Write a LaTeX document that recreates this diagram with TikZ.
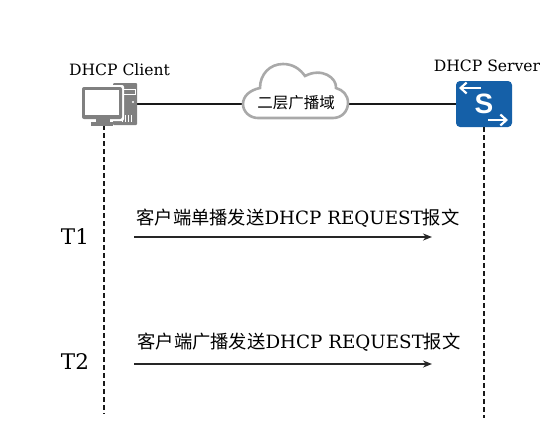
\documentclass[tikz,border=0pt]{standalone}
\usepackage{fontspec}
\setmainfont{DejaVu Serif}
\newfontfamily\cjk{Noto Sans CJK SC}
\newfontfamily\iconfont{Liberation Sans}
\usepackage{xcolor}
\usetikzlibrary{arrows.meta, calc, positioning}
\definecolor{Device}   {HTML}{808080}
\definecolor{CloudLine}{HTML}{A9A9A9}
\definecolor{Switch}   {HTML}{1560A8}
\tikzset{
  msg arrow/.style={-{Stealth[length=9pt,width=7pt]}, line width=1.8pt, draw=black!85},
  icon arrow/.style={-{Straight Barb[length=6pt,width=11pt]}, line width=2.2pt, white},
}
\begin{document}
\begin{tikzpicture}[x=1pt, y=-1pt,
    title/.style={font=\fontsize{15.6}{17}\selectfont, inner sep=0pt},
    timer/.style={font=\fontsize{21.5}{24}\selectfont, inner sep=0pt},
    msg/.style={font=\fontsize{18.3}{20}\selectfont, inner sep=0pt},
    link/.style={line width=2.1pt, draw=black!90},
    lifeline/.style={line width=2pt, dash pattern=on 5pt off 3pt, draw=black!90},
    device/.style={minimum width=#1, minimum height=42pt, inner sep=0pt, outer sep=0pt}]
  \useasboundingbox (0,0) rectangle (554,431);
  % Nodes
  \node[device=55pt] (client) at (109.5,104) {};
  \node[device=56pt, minimum height=46pt, fill=Switch, rounded corners=4pt, text=white,
        font=\iconfont\fontsize{28}{28}\selectfont\bfseries] (server) at (484,104) {S};
  \node[device=105pt, minimum height=30pt] (cloud) at (295.5,104) {};
  \node[title, above=7pt of client.north, xshift=10pt] (clientname) {DHCP Client};
  \node[title] (servername) at (487,66) {DHCP Server};
  \node[timer] (t1) at (75,237) {T1};
  \node[timer] (t2) at (75,362) {T2};
  \node[msg] (m1) at (298,218) {{\cjk 客户端单播发送}DHCP REQUEST{\cjk 报文}};
  \node[msg] (m2) at (299,342) {{\cjk 客户端广播发送}DHCP REQUEST{\cjk 报文}};
  \coordinate (clientend) at (104,414);
  \coordinate (serverend) at (484,418);
  \coordinate (a1) at (134,237);
  \coordinate (b1) at (432,237);
  \coordinate (a2) at (134,364);
  \coordinate (b2) at (432,364);
  % Links and lifelines
  \draw[link] (client.east) -- (cloud.west);
  \draw[link] (cloud.east) -- (server.west);
  \draw[lifeline] (client.south -| clientend) -- (clientend);
  \draw[lifeline] (server.south) -- (serverend);
  \draw[msg arrow] (a1) -- (b1);
  \draw[msg arrow] (a2) -- (b2);
  % Cloud
  \draw[line width=2.6pt, draw=CloudLine, fill=white]
    (258,118) -- (333,118) .. controls (342,118) and (348,111) .. (348,103)
    .. controls (348,95) and (343,90) .. (336,88)
    .. controls (337,78) and (322,67) .. (305,76)
    .. controls (300,69) and (293,64) .. (283,64)
    .. controls (270,64) and (260,74) .. (260,88)
    .. controls (250,90) and (243,96) .. (243,104)
    .. controls (243,112) and (250,118) .. (258,118) -- cycle;
  \node[inner sep=0pt, font=\cjk\fontsize{15.5}{16}\selectfont] (cloudtext) at (296,103) {二层广播域};
  % Client icon
  \fill[Device, rounded corners=1pt] (113,83) rectangle (137,125);
  \fill[white] (124,89) rectangle (136,90);
  \fill[white] (124,94) rectangle (136,95);
  \fill[white] (135,89) rectangle (136,95);
  \fill[white] (133,102) circle (1.2);
  \foreach \x in {122,125,128,131}
    \fill[white] (\x,115) rectangle ++(1.2,7);
  \fill[white, rounded corners=2pt] (80,85) rectangle (124,121);
  \fill[Device, rounded corners=2pt] (82,87) rectangle (122,119);
  \fill[white] (85,90) rectangle (119,115);
  \fill[Device] (96,119) rectangle (110,122);
  \fill[Device] (91,122) rectangle (113,126);
  % Switch arrows
  \draw[icon arrow] (481,88) -- (459,88);
  \draw[icon arrow] (488,120) -- (508,120);
\end{tikzpicture}
\end{document}
